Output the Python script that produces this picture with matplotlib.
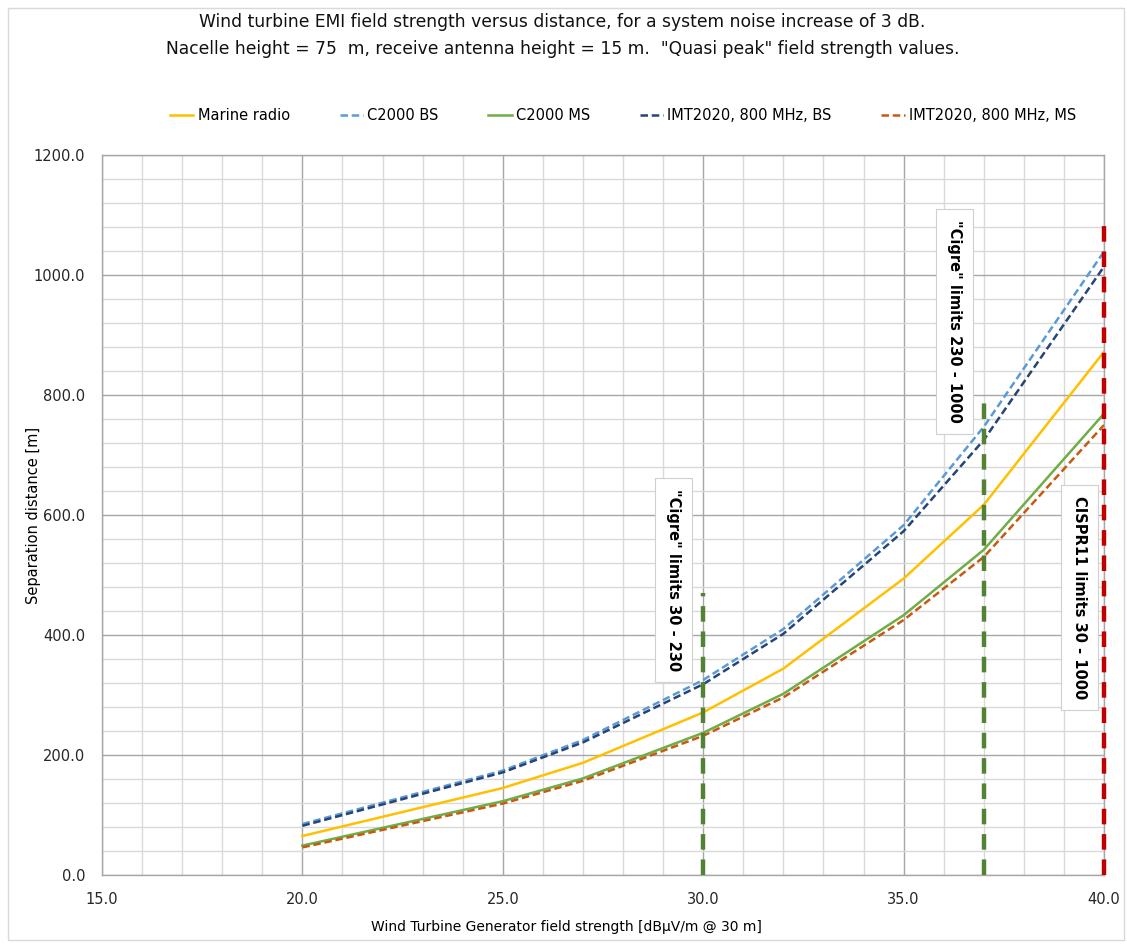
import matplotlib
matplotlib.use('Agg')
import matplotlib.pyplot as plt
from matplotlib.ticker import MultipleLocator, FormatStrFormatter
from matplotlib.patches import Rectangle

# Field strength at 30 m [dBuV/m] and separation distances [m]
field_strength = [20, 25, 27, 30, 32, 35, 37, 40]
marine_radio = [65, 145, 187, 271, 344, 494, 617, 872]
c2000_bs = [85, 174, 225, 325, 410, 583, 747, 1039]
c2000_ms = [49, 123, 161, 237, 302, 433, 542, 769]
imt_bs = [82, 171, 221, 318, 402, 573, 725, 1014]
imt_ms = [46, 119, 157, 232, 296, 425, 530, 750]

# Limit markers: (x position, top of the line)
cigre_low = (30, 470)
cigre_high = (37, 790)
cispr = (40, 1095)

fig = plt.figure(figsize=(11.27, 9.44), dpi=100)
ax = fig.add_axes([0.0905, 0.0731, 0.8891, 0.7627])

ax.plot(field_strength, marine_radio, color='#FFC000', lw=1.8, label='Marine radio')
ax.plot(field_strength, c2000_bs, color='#5B9BD5', lw=1.8, dashes=(3, 1.5), label='C2000 BS')
ax.plot(field_strength, c2000_ms, color='#70AD47', lw=1.8, label='C2000 MS')
ax.plot(field_strength, imt_bs, color='#264478', lw=1.8, dashes=(3, 1.5), label='IMT2020, 800 MHz, BS')
ax.plot(field_strength, imt_ms, color='#C55A11', lw=1.8, dashes=(3, 1.5), label='IMT2020, 800 MHz, MS')

# vertical limit lines
for (xv, top), col in [(cigre_low, '#548235'), (cigre_high, '#548235'), (cispr, '#C00000')]:
    ax.plot([xv, xv], [0, top], color=col, lw=3.2, dashes=(3.5, 2.2), zorder=4, clip_on=False)

box = dict(boxstyle='square,pad=0.75', facecolor='white', edgecolor='#D0D0D0', lw=0.8)
text_kw = dict(rotation=270, ha='center', va='center', fontsize=10.5,
               fontweight='bold', bbox=box, zorder=5)
ax.text(29.25, 492, '"Cigre" limits 30 - 230', **text_kw)
ax.text(36.28, 922, '"Cigre" limits 230 - 1000', **text_kw)
ax.text(39.38, 463, 'CISPR11 limits 30 - 1000', **text_kw)

ax.set_xlim(15, 40)
ax.set_ylim(0, 1200)
ax.xaxis.set_major_locator(MultipleLocator(5))
ax.xaxis.set_minor_locator(MultipleLocator(1))
ax.yaxis.set_major_locator(MultipleLocator(200))
ax.yaxis.set_minor_locator(MultipleLocator(40))
ax.xaxis.set_major_formatter(FormatStrFormatter('%.1f'))
ax.yaxis.set_major_formatter(FormatStrFormatter('%.1f'))
ax.grid(which='major', color='#A6A6A6', lw=1.0)
ax.grid(which='minor', color='#D9D9D9', lw=1.0)
ax.set_axisbelow(True)
ax.tick_params(which='both', length=0, labelsize=10.5, colors='#262626')
ax.tick_params(axis='x', pad=12)
ax.tick_params(axis='y', pad=12)
for s in ax.spines.values():
    s.set_color('#A6A6A6')
    s.set_linewidth(1.0)

ax.set_xlabel('Wind Turbine Generator field strength [dBµV/m @ 30 m]', fontsize=10)
ax.set_ylabel('Separation distance [m]', fontsize=10.5)
ax.xaxis.set_label_coords(0.464, -0.063)
ax.yaxis.set_label_coords(-0.061, 0.5)

fig.text(0.499, 0.977, 'Wind turbine EMI field strength versus distance, for a system noise increase of 3 dB.',
         ha='center', va='center', fontsize=12.3, color='#111111')
fig.text(0.499, 0.948, 'Nacelle height = 75  m, receive antenna height = 15 m.  "Quasi peak" field strength values.',
         ha='center', va='center', fontsize=12.3, color='#111111')

fig.legend(loc='center', bbox_to_anchor=(0.553, 0.878), ncol=5, frameon=False,
           fontsize=10.5, handlelength=1.6, handletextpad=0.3, columnspacing=3.4)

fig.patches.append(Rectangle((0.007, 0.004), 0.99, 0.988, transform=fig.transFigure,
                             fill=False, edgecolor='#D9D9D9', lw=1.0))

fig.savefig('out.png', dpi=100)
